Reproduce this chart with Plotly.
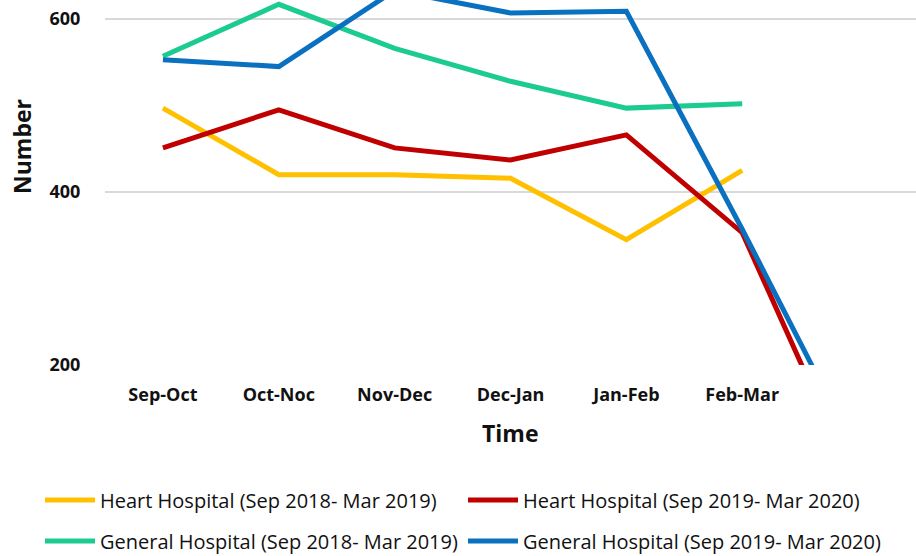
import plotly.graph_objects as go

periods = ["Sep-Oct", "Oct-Noc", "Nov-Dec", "Dec-Jan", "Jan-Feb", "Feb-Mar", ""]
heart_2018 = [497, 420, 420, 416, 345, 425]
heart_2019 = [451, 495, 451, 437, 466, 353, 55]
general_2018 = [557, 617, 566, 528, 497, 502]
general_2019 = [553, 545, 633, 607, 609, 357, 95]
y_ticks = [200, 400, 600]

names = [
    "Heart Hospital (Sep 2018- Mar 2019)",
    "Heart Hospital (Sep 2019- Mar 2020)",
    "General Hospital (Sep 2018- Mar 2019)",
    "General Hospital (Sep 2019- Mar 2020)",
]
colors = ["#FFC000", "#C00000", "#1CCB8F", "#0A70C0"]
series = [heart_2018, heart_2019, general_2018, general_2019]
legend_ids = ["legend", "legend2", "legend3", "legend4"]
# legend item anchor positions (px): (left, center y)
legend_pos = [(40, 500), (463, 500), (40, 541), (463, 541)]

FONT = "Open Sans, Arial, sans-serif"

fig = go.Figure()
for name, col, vals, lg in zip(names, colors, series, legend_ids):
    fig.add_trace(go.Scatter(
        x=list(range(len(vals))), y=vals, mode="lines", name=name,
        line=dict(color=col, width=5), legend=lg,
    ))

legend_layout = {}
for lg, (px, py) in zip(legend_ids, legend_pos):
    legend_layout[lg] = dict(
        orientation="h", xanchor="left", yanchor="middle",
        x=px / 916, y=1 - py / 556, xref="container", yref="container",
        font=dict(family=FONT, size=20, color="#111"),
        bgcolor="rgba(0,0,0,0)", itemwidth=50,
    )

fig.update_layout(
    width=916, height=556,
    margin=dict(l=105, r=0, t=0, b=191, autoexpand=False),
    paper_bgcolor="white", plot_bgcolor="white",
    showlegend=True,
    **legend_layout,
    xaxis=dict(
        range=[-0.5, 6.5], tickmode="array", tickvals=list(range(len(periods) - 1)),
        ticktext=[f"<b>{p}</b>" for p in periods[:-1]], showgrid=False, zeroline=False,
        showline=False, ticks="outside", ticklen=13, tickcolor="rgba(0,0,0,0)",
        tickfont=dict(family=FONT, size=18, color="#111"),
    ),
    yaxis=dict(
        range=[200, 622], tickmode="array", tickvals=y_ticks,
        ticktext=[f"<b>{v}</b>" for v in y_ticks],
        showgrid=True, gridcolor="#D9D9D9", gridwidth=1.5, zeroline=False, showline=False,
        ticks="outside", ticklen=20, tickcolor="rgba(0,0,0,0)",
        tickfont=dict(family=FONT, size=18, color="#111"),
    ),
    annotations=[
        dict(text="<b>Number</b>", xref="paper", x=(22 - 105) / 811, yref="paper",
             y=(365 - 147) / 365, xanchor="center", yanchor="middle",
             showarrow=False, textangle=-90,
             font=dict(family=FONT, size=23, color="#111")),
        dict(text="<b>Time</b>", x=0.5, xref="paper", yref="paper", y=(365 - 433) / 365,
             xanchor="center", yanchor="middle",
             showarrow=False, font=dict(family=FONT, size=23, color="#111")),
    ],
)

fig.write_html("out.html", config={"displayModeBar": False},
               post_script="document.body.style.margin='0';")
